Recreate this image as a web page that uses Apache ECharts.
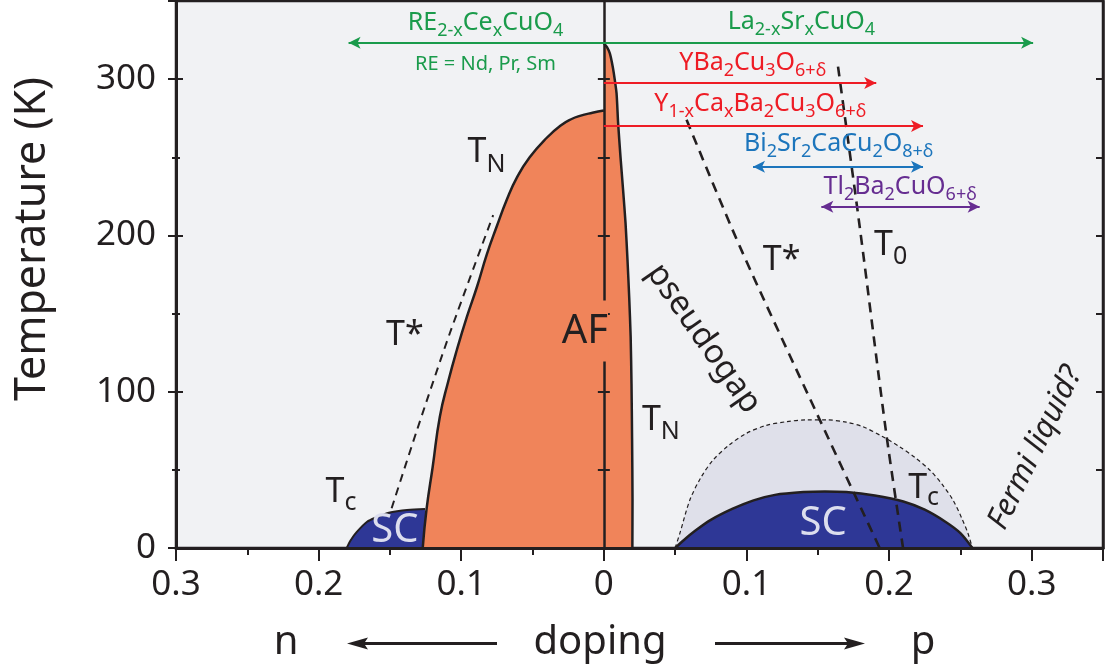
<!DOCTYPE html>
<html>
<head>
<meta charset="utf-8">
<script src="https://cdn.jsdelivr.net/npm/echarts@6/dist/echarts.min.js"></script>
<style>
html, body { margin: 0; padding: 0; background: #fff; }
#chart { width: 1105px; height: 672px; }
</style>
</head>
<body>
<div id="chart"></div>
<script>
// doping (negative = electron side) vs temperature (K)
var afElectron = [[-0.127, 0], [-0.1243, 25], [-0.120, 52], [-0.115, 84], [-0.109, 107], [-0.103, 127], [-0.096, 148], [-0.089, 167], [-0.082, 188], [-0.075, 206], [-0.068, 223], [-0.061, 237], [-0.052, 250], [-0.040, 262.5], [-0.0300, 270.5], [-0.0226, 274.5], [-0.0168, 276.5], [-0.008, 278.5], [0, 280]];
var afHole = [[0, 323], [0.0022, 320.5], [0.0042, 316.5], [0.0057, 310.5], [0.0070, 303.7], [0.0089, 291], [0.0100, 272], [0.0117, 250], [0.0135, 229], [0.0152, 208], [0.0166, 184], [0.0178, 160], [0.0188, 135], [0.0194, 105], [0.0198, 70], [0.0201, 31], [0.0200, 0]];
var scElectron = [[-0.1803, 0], [-0.1775, 5], [-0.1735, 10], [-0.166, 16.8], [-0.159, 19.8], [-0.152, 22.2], [-0.145, 23.5], [-0.138, 24.3], [-0.1254, 25]];
var scHole = [[0.050, 0], [0.056, 5], [0.064, 11], [0.075, 18], [0.090, 25], [0.105, 30.5], [0.120, 34], [0.140, 35.8], [0.155, 36.2], [0.170, 35.8], [0.190, 33.6], [0.210, 29.8], [0.225, 24.5], [0.240, 16.5], [0.250, 9.5], [0.2584, 0]];
var scFluct = [[0.050, 0], [0.0533, 9.4], [0.0603, 30.7], [0.0680, 45], [0.0766, 56.3], [0.088, 66], [0.100, 73.4], [0.114, 78.5], [0.128, 80.8], [0.142, 82], [0.156, 82], [0.170, 80.5], [0.1817, 77.6], [0.195, 71.5], [0.2074, 64.8], [0.218, 58], [0.2285, 49.9], [0.237, 41], [0.2448, 30.7], [0.2510, 19], [0.2553, 9.4], [0.2584, 0]];
var tStarElectron = [[-0.1488, 25.4], [-0.131, 75.5], [-0.108, 137.4], [-0.0776, 213]];
var tStarHole = [[0.058, 274], [0.0953, 193], [0.1514, 82], [0.1934, 0]];
var tZero = [[0.1642, 308], [0.1794, 205.6], [0.198, 73.4], [0.2098, 0]];

// compound doping ranges
var arrowFrom = [-0.179, 0, 0, 0.1046, 0.1525];
var arrowTo = [0.301, 0.191, 0.2238, 0.2238, 0.2635];
var arrowTemp = [323.3, 297.6, 270, 244, 218.3];
var arrowBoth = [true, false, false, true, true];

var xTickLabels = ['0.3', '0.2', '0.1', '0', '0.1', '0.2', '0.3'];
var yTickLabels = ['0', '100', '200', '300'];

var ink = '#231f20';
var green = '#1a9b4b', red = '#ee1c25', blue = '#1c75bc', purple = '#662d91';
var arrowColors = [green, red, red, blue, purple];
var font = 'Noto Sans';

var xMin = -0.3, xMax = 0.35;
var gridL = 176, gridR = 2, gridT = 1, gridB = 124;
var zeroOffset = -(0 - xMin) / (xMax - xMin) * (1105 - gridL - gridR);

var myChart = echarts.init(document.getElementById('chart'));

// build "main / sub / main / sub ..." rich text
function chem(parts) {
	var s = '';
	for (var i = 0; i < parts.length; i++) {
		if (parts[i] === '') continue;
		s += '{' + (i % 2 ? 's' : 'm') + '|' + parts[i] + '}';
	}
	return s;
}

function note(parts, at, opt) {
	var size = opt.size || 34;
	var sub = opt.sub || Math.round(size * 0.72);
	var drop = opt.drop || 8;
	var color = opt.color || ink;
	var lh = Math.max(size + 4, sub + drop * 2 + 2);
	var label = {
		show: true,
		position: 'inside',
		formatter: chem(parts),
		rotate: opt.rotate || 0,
		rich: {
			m: { fontSize: size, lineHeight: lh, color: color, fontFamily: font, fontStyle: opt.italic ? 'italic' : 'normal', verticalAlign: 'middle' },
			s: { fontSize: sub, lineHeight: sub, color: color, fontFamily: font, verticalAlign: 'middle', padding: [drop * 2, 0, 0, 0] }
		}
	};
	if (opt.bg) {
		label.backgroundColor = opt.bg;
		label.padding = [8, 0, 6, 0];
	}
	return { coord: at, symbolSize: 0, label: label };
}

var notes = [
	note(['RE', '2-x', 'Ce', 'x', 'CuO', '4'], [-0.083, 336], { size: 25, color: green }),
	note(['RE = Nd, Pr, Sm'], [-0.083, 309.6], { size: 20, color: green }),
	note(['La', '2-x', 'Sr', 'x', 'CuO', '4'], [0.1385, 336.5], { size: 25, color: green }),
	note(['YBa', '2', 'Cu', '3', 'O', '6+δ'], [0.1044, 310.6], { size: 25, color: red }),
	note(['Y', '1-x', 'Ca', 'x', 'Ba', '2', 'Cu', '3', 'O', '6+δ'], [0.1097, 284], { size: 25, color: red }),
	note(['Bi', '2', 'Sr', '2', 'CaCu', '2', 'O', '8+δ'], [0.1647, 258.4], { size: 25, color: blue }),
	note(['Tl', '2', 'Ba', '2', 'CuO', '6+δ'], [0.2078, 231], { size: 25, color: purple }),
	note(['T', 'N'], [-0.0823, 253], { sub: 25, drop: 12 }),
	note(['T*'], [-0.1395, 136], {}),
	note(['T', 'c'], [-0.1843, 35.5], { sub: 25, drop: 10 }),
	note(['SC'], [-0.1465, 10.9], { size: 40, color: '#dcdeee' }),
	note(['AF'], [-0.0133, 138.8], { size: 40, bg: '#f0845a' }),
	note(['pseudogap'], [0.0700, 134], { size: 33, rotate: -55 }),
	note(['T', 'N'], [0.040, 81.9], { sub: 25, drop: 12 }),
	note(['T*'], [0.1247, 184.2], {}),
	note(['T', '0'], [0.2011, 193.8], { sub: 25, drop: 12 }),
	note(['T', 'c'], [0.2242, 38.4], { sub: 25, drop: 10 }),
	note(['SC'], [0.1538, 15.4], { size: 40, color: '#dcdeee' }),
	note(['Fermi liquid?'], [0.3025, 64], { size: 31, rotate: 64, italic: true })
];

var arrows = [];
for (var i = 0; i < arrowFrom.length; i++) {
	var ls = { color: arrowColors[i], width: 2, type: 'solid' };
	arrows.push([
		{ coord: [arrowFrom[i], arrowTemp[i]], symbol: arrowBoth[i] ? 'arrow' : 'none', lineStyle: ls },
		{ coord: [arrowTo[i], arrowTemp[i]], symbol: 'arrow', lineStyle: ls }
	]);
}

function dome(data, fill, width, dash, smooth) {
	return {
		type: 'line',
		data: data,
		symbol: 'none',
		smooth: smooth == null ? 0.3 : smooth,
		silent: true,
		lineStyle: { color: ink, width: width, type: dash || 'solid' },
		areaStyle: { color: fill, opacity: 1 }
	};
}

function dashed(data, width, dash) {
	return {
		type: 'line',
		data: data,
		symbol: 'none',
		smooth: 0.3,
		silent: true,
		lineStyle: { color: ink, width: width, type: dash }
	};
}

function yAx(extra) {
	var base = {
		type: 'value',
		min: 0,
		max: 350,
		interval: 100,
		position: 'left',
		z: 3,
		axisLine: { show: true, onZero: false, lineStyle: { color: ink, width: 3 } },
		axisTick: { show: true, length: 8, lineStyle: { color: ink, width: 2 } },
		axisLabel: { show: false },
		splitLine: { show: false }
	};
	return Object.assign(base, extra);
}

var option = {
	animation: false,
	textStyle: { fontFamily: font },
	grid: {
		left: gridL, right: gridR, top: gridT, bottom: gridB,
		show: true,
		backgroundColor: '#f1f2f4',
		borderColor: ink,
		borderWidth: 2.5
	},
	xAxis: {
		type: 'value',
		min: xMin,
		max: xMax,
		interval: 0.1,
		z: 3,
		axisLine: { onZero: false, lineStyle: { color: ink, width: 3 } },
		axisTick: { length: 13, lineStyle: { color: ink, width: 2 } },
		minorTick: { show: true, splitNumber: 2, length: 7, lineStyle: { color: ink, width: 2 } },
		splitLine: { show: false },
		axisLabel: {
			margin: 20,
			fontSize: 35,
			color: ink,
			fontFamily: font,
			showMaxLabel: false,
			formatter: function(v) {
				var k = Math.round((v - xMin) / 0.1);
				return v > 0.31 ? '' : xTickLabels[k];
			}
		}
	},
	yAxis: [
		yAx({
			minorTick: { show: true, splitNumber: 2, length: 4, lineStyle: { color: ink, width: 2 } },
			axisLabel: {
				show: true, margin: 20, fontSize: 35, color: ink, fontFamily: font,
				formatter: function(v) { return v > 301 ? '' : yTickLabels[Math.round(v / 100)]; }
			}
		}),
		yAx({
			axisTick: { show: true, inside: true, length: 7, lineStyle: { color: ink, width: 2 } },
			minorTick: { show: true, splitNumber: 2, length: 4, lineStyle: { color: ink, width: 2 } }
		}),
		yAx({
			position: 'right', interval: 50,
			axisLine: { show: true, onZero: false, lineStyle: { color: ink, width: 2.5 } },
			axisTick: { show: true, inside: true, length: 7, lineStyle: { color: ink, width: 2 } }
		}),
		yAx({
			offset: zeroOffset, interval: 50,
			axisLine: { show: true, onZero: false, lineStyle: { color: ink, width: 2.5 } },
			axisTick: { show: true, length: 6, lineStyle: { color: ink, width: 2 } }
		}),
		yAx({
			offset: zeroOffset, interval: 50,
			axisLine: { show: false, onZero: false },
			axisTick: { show: true, inside: true, length: 6, lineStyle: { color: ink, width: 2 } }
		})
	],
	series: [
		dome(scFluct, '#dfe0ea', 1.2, [4, 3]),
		dome(scHole, '#2e3796', 2.5),
		dome(scElectron, '#2e3796', 2),
		dome(afElectron, '#f0845a', 2.5, null, 0.5),
		dome(afHole, '#f0845a', 2.5, null, 0.2),
		dashed(tStarElectron, 2, [8, 6]),
		dashed(tStarHole, 2.6, [10, 7]),
		dashed(tZero, 2.6, [10, 7]),
		{
			type: 'line',
			data: [],
			silent: true,
			markLine: {
				silent: true,
				animation: false,
				symbolSize: [9, 12],
				label: { show: false },
				data: arrows
			},
			markPoint: {
				silent: true,
				animation: false,
				symbol: 'circle',
				symbolSize: 0,
				itemStyle: { color: 'rgba(0,0,0,0)' },
				data: notes
			}
		}
	],
	graphic: [
		{
			type: 'text', x: 33, y: 239, rotation: Math.PI / 2,
			style: { text: 'Temperature (K)', fontSize: 43, fontFamily: font, fill: ink, align: 'center', verticalAlign: 'middle' }
		},
		{ type: 'text', x: 286, y: 643, style: { text: 'n', fontSize: 40, fontFamily: font, fill: ink, align: 'center', verticalAlign: 'middle' } },
		{ type: 'text', x: 600, y: 643, style: { text: 'doping', fontSize: 40, fontFamily: font, fill: ink, align: 'center', verticalAlign: 'middle' } },
		{ type: 'text', x: 923, y: 643, style: { text: 'p', fontSize: 40, fontFamily: font, fill: ink, align: 'center', verticalAlign: 'middle' } },
		{ type: 'line', shape: { x1: 360, y1: 643.5, x2: 497, y2: 643.5 }, style: { stroke: ink, lineWidth: 3 } },
		{ type: 'polygon', shape: { points: [[347, 643.5], [368, 637.5], [364, 643.5], [368, 649.5]] }, style: { fill: ink } },
		{ type: 'line', shape: { x1: 715, y1: 643.5, x2: 852, y2: 643.5 }, style: { stroke: ink, lineWidth: 3 } },
		{ type: 'polygon', shape: { points: [[865, 643.5], [844, 637.5], [848, 643.5], [844, 649.5]] }, style: { fill: ink } }
	]
};

myChart.setOption(option);
window.addEventListener('resize', function() {
	myChart.resize();
});
</script>
</body>
</html>
